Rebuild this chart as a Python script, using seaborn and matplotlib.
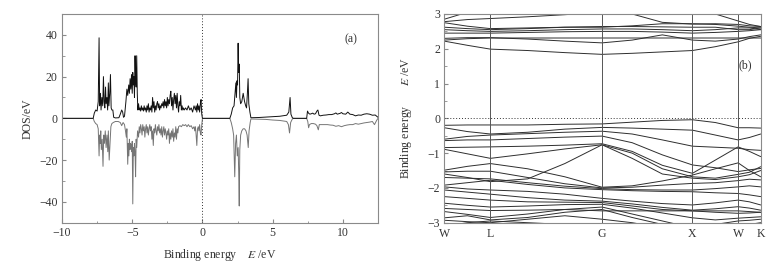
import matplotlib
matplotlib.use("Agg")
import matplotlib.pyplot as plt
import seaborn as sns
import pandas as pd
import numpy as np

# ---------------- DOS data (panel a) ----------------
e_up = [-10.0, -7.78, -7.70, -7.60, -7.50, -7.42, -7.36, -7.32, -7.26, -7.22, -7.16, -7.10, -7.05, -7.00,
        -6.95, -6.90, -6.86, -6.80, -6.75, -6.70, -6.66, -6.60, -6.55, -6.50, -6.45, -6.38, -6.32, -6.20,
        -5.95, -5.85, -5.75, -5.68, -5.62, -5.55, -5.45, -5.38, -5.32, -5.25, -5.20, -5.15, -5.10, -5.05,
        -5.00, -4.96, -4.92, -4.88, -4.84, -4.80, -4.76, -4.72, -4.68, -4.64, -4.60, -4.55, -4.50, -4.45,
        -4.40, -4.35, -4.30, -4.25, -4.20, -4.15, -4.10, -4.05, -4.00, -3.95, -3.90, -3.85, -3.80, -3.75,
        -3.70, -3.65, -3.60, -3.55, -3.50, -3.45, -3.40, -3.35, -3.30, -3.25, -3.20, -3.15, -3.10, -3.05,
        -3.00, -2.95, -2.90, -2.85, -2.80, -2.75, -2.70, -2.65, -2.60, -2.55, -2.50, -2.45, -2.40, -2.35,
        -2.30, -2.25, -2.20, -2.15, -2.10, -2.05, -2.00, -1.95, -1.90, -1.85, -1.80, -1.75, -1.70, -1.65,
        -1.60, -1.55, -1.50, -1.45, -1.40, -1.35, -1.30, -1.20, -1.10, -1.00, -0.90, -0.80, -0.70, -0.60,
        -0.50, -0.45, -0.40, -0.35, -0.30, -0.25, -0.20, -0.15, -0.10, -0.05, 0.00, 1.95, 2.05, 2.15,
        2.25, 2.32, 2.38, 2.42, 2.46, 2.50, 2.54, 2.58, 2.62, 2.66, 2.72, 2.80, 2.90, 3.00, 3.08, 3.14,
        3.20, 3.25, 3.30, 3.38, 3.45, 4.0, 4.5, 5.0, 5.5, 6.0, 6.15, 6.24, 6.30, 6.40, 6.47, 7.42,
        7.48, 7.55, 7.65, 7.75, 7.85, 7.95, 8.05, 8.15, 8.22, 8.30, 8.40, 8.6, 8.8, 9.0, 9.2, 9.4,
        9.5, 9.6, 9.8, 9.9, 10.0, 10.2, 10.35, 10.5, 10.7, 10.9, 11.1, 11.3, 11.5, 11.7, 11.9, 12.1,
        12.3, 12.5]
dos_up = [0, 0, 2.5, 4, 3.5, 8, 38.6, 6, 12, 4, 10, 6, 20, 8,
          5, 15, 7, 10, 4, 17, 6, 12, 21, 5, 4, 4, 0.5, 0.2,
          0.3, 2, 4, 3, 0.5, 1, 8, 14, 11, 16, 12, 19, 14, 21,
          12, 22, 16, 20, 10, 30, 18, 15, 30, 12, 4, 7, 4, 5,
          3.5, 6, 4, 5, 3.5, 6, 4, 5, 3, 6, 4, 7, 3, 5,
          4, 6, 3, 10, 5, 8, 3, 6, 4, 7, 8, 5, 7, 4,
          6, 5, 7, 6, 8, 5, 9, 6, 8, 5, 10, 6, 9, 7,
          11, 13, 6, 10, 4, 9, 12, 7, 11, 5, 12, 6, 3, 8,
          6, 11, 4, 6, 4, 5, 4, 5, 4, 6, 4, 5, 3, 6,
          4, 6, 3, 7, 4, 6, 3, 7, 9, 2, 0, 0, 2, 5,
          6, 12, 17, 10, 18, 16, 36, 22, 26, 10, 7, 8, 12, 8, 6, 5,
          12, 19, 7, 3, 0.3, 0.4, 0.6, 0.8, 1.0, 1.5, 3, 10, 2, 0.3, 0, 0,
          3.5, 2.5, 2, 2.2, 2.5, 2, 2.2, 3.5, 4, 1.5, 1.2, 1.5, 1.6, 1.8, 1.8, 2.2,
          2.6, 2.0, 2.4, 2.8, 2.2, 2.0, 3.0, 2.0, 1.8, 1.2, 1.6, 1.5, 2.0, 2.2, 2.0, 1.5,
          1.6, 0.5]

e_dn = [-10.0, -7.78, -7.70, -7.60, -7.50, -7.42, -7.36, -7.32, -7.28, -7.24, -7.20, -7.14, -7.08, -7.03,
        -6.98, -6.92, -6.86, -6.80, -6.74, -6.70, -6.64, -6.58, -6.52, -6.45, -6.35, -6.20, -6.00, -5.85,
        -5.75, -5.65, -5.55, -5.48, -5.42, -5.38, -5.32, -5.28, -5.24, -5.20, -5.16, -5.12, -5.08, -5.04,
        -5.00, -4.96, -4.92, -4.88, -4.84, -4.80, -4.76, -4.72, -4.68, -4.62, -4.55, -4.50, -4.45, -4.40,
        -4.35, -4.30, -4.25, -4.20, -4.15, -4.10, -4.05, -4.00, -3.95, -3.90, -3.85, -3.80, -3.75, -3.70,
        -3.65, -3.60, -3.55, -3.50, -3.45, -3.40, -3.35, -3.30, -3.25, -3.20, -3.15, -3.10, -3.05, -3.00,
        -2.95, -2.90, -2.85, -2.80, -2.75, -2.70, -2.65, -2.60, -2.55, -2.50, -2.45, -2.40, -2.35, -2.30,
        -2.25, -2.20, -2.15, -2.10, -2.05, -2.00, -1.95, -1.90, -1.85, -1.80, -1.75, -1.70, -1.60, -1.50,
        -1.40, -1.30, -1.20, -1.10, -1.00, -0.90, -0.80, -0.70, -0.60, -0.55, -0.50, -0.45, -0.40, -0.35,
        -0.30, -0.25, -0.20, -0.15, -0.10, -0.05, 0.00, 1.95, 2.05, 2.15, 2.22, 2.30, 2.36, 2.42,
        2.48, 2.54, 2.58, 2.62, 2.66, 2.72, 2.80, 2.90, 3.00, 3.10, 3.18, 3.26, 3.32, 3.40, 3.45, 4.0,
        4.5, 5.0, 5.5, 6.0, 6.12, 6.20, 6.28, 6.40, 6.47, 7.42, 7.50, 7.56, 7.62, 7.75, 7.90, 8.05,
        8.15, 8.25, 8.32, 8.5, 8.7, 8.9, 9.1, 9.3, 9.5, 9.7, 9.9, 10.1, 10.3, 10.5, 10.7, 10.9,
        11.1, 11.3, 11.5, 11.7, 11.9, 12.1, 12.25, 12.4, 12.5]
dos_dn = [0, 0, -1.5, -2.5, -3, -5, -18, -8, -12, -6, -15, -10, -23, -8,
          -12, -6, -14, -8, -16, -6, -20, -12, -4, -2.5, -2, -1.5, -1.5, -2,
          -3.5, -2, -3, -6, -9, -5, -22, -12, -18, -10, -15, -12, -13, -16,
          -11, -41, -14, -18, -12, -16, -28, -10, -14, -6, -9, -4, -7, -3,
          -5, -8, -3, -6, -4, -9, -5, -3, -7, -4, -8, -5, -3, -6,
          -4, -10, -6, -13, -5, -7, -3, -6, -8, -4, -6, -3, -7, -5,
          -8, -4, -9, -6, -4, -8, -5, -7, -10, -6, -8, -5, -12, -7,
          -10, -6, -9, -5, -11, -7, -9, -4, -10, -5, -7, -4, -3.5, -4,
          -3, -3.5, -3, -4, -3, -4, -3.5, -5, -4, -6, -4, -8, -13, -5,
          -4, -6, -3, -7, -8, -3, 0, 0, -2, -5, -8, -28, -12, -8,
          -18, -14, -25, -42, -15, -8, -6, -5, -5, -6, -8, -14, -6, -2, -0.3, -0.4,
          -0.5, -0.8, -1.0, -1.5, -3, -7, -2, -0.3, 0, 0, -1.5, -4.5, -3, -2.5, -2.5, -2.8,
          -3.5, -5.5, -3, -3, -3, -3, -3.2, -3.3, -3.8, -3.5, -4, -3.5, -3.2, -3, -3, -2.5,
          -2.8, -2.5, -2.2, -2, -1.8, -1.5, -3, -1, 0]

# ---------------- Band structure data (panel b) ----------------
k_labels = ["W", "L", "G", "X", "W", "K"]
k_label_pos = [0.0, 0.51, 1.745, 2.745, 3.25, 3.5]
# path nodes: W, mid, L, 1/3, 2/3, G, 1/3, 2/3, X, mid, W, mid, K
k_nodes = [0.0, 0.255, 0.51, 0.922, 1.333, 1.745, 2.078, 2.412, 2.745, 2.998, 3.25, 3.375, 3.5]

valence_bands = [
    [-0.20, -0.19, -0.19, -0.19, -0.17, -0.16, -0.11, -0.06, -0.04, -0.12, -0.27, -0.27, -0.28],
    [-0.27, -0.38, -0.45, -0.40, -0.31, -0.26, -0.28, -0.31, -0.34, -0.48, -0.62, -0.55, -0.45],
    [-0.60, -0.52, -0.48, -0.44, -0.40, -0.37, -0.45, -0.62, -0.80, -0.83, -0.86, -0.90, -0.92],
    [-0.64, -0.62, -0.62, -0.58, -0.54, -0.51, -0.70, -1.05, -1.34, -1.42, -1.53, -1.48, -1.44],
    [-0.84, -0.83, -0.82, -0.80, -0.77, -0.73, -0.95, -1.35, -1.58, -1.20, -0.82, -0.95, -1.10],
    [-0.89, -1.02, -1.15, -1.02, -0.88, -0.76, -1.00, -1.45, -1.68, -1.72, -1.61, -1.55, -1.39],
    [-1.60, -1.70, -1.82, -1.74, -1.30, -0.76, -1.15, -1.60, -1.72, -1.76, -1.68, -1.62, -1.50],
    [-1.49, -1.38, -1.30, -1.45, -1.68, -1.98, -1.94, -1.80, -1.63, -1.45, -1.28, -1.50, -1.68],
    [-1.54, -1.52, -1.52, -1.70, -1.88, -2.00, -1.98, -1.92, -1.87, -1.85, -1.79, -1.75, -1.77],
    [-1.70, -1.72, -1.74, -1.85, -1.95, -2.02, -2.05, -2.06, -2.06, -2.02, -1.97, -1.94, -1.97],
    [-1.92, -1.85, -1.78, -1.90, -2.00, -2.05, -2.08, -2.10, -2.11, -2.14, -2.16, -2.20, -2.25],
    [-1.97, -2.03, -2.06, -2.10, -2.18, -2.30, -2.38, -2.45, -2.49, -2.43, -2.35, -2.40, -2.49],
    [-2.06, -2.12, -2.18, -2.28, -2.35, -2.38, -2.46, -2.56, -2.64, -2.60, -2.54, -2.58, -2.64],
    [-2.25, -2.30, -2.35, -2.40, -2.41, -2.42, -2.52, -2.62, -2.66, -2.70, -2.73, -2.72, -2.70],
    [-2.44, -2.50, -2.55, -2.52, -2.48, -2.47, -2.58, -2.72, -2.86, -2.92, -2.87, -2.85, -2.83],
    [-2.59, -2.62, -2.65, -2.64, -2.62, -2.66, -2.66, -2.66, -2.66, -2.66, -2.66, -2.68, -2.70],
    [-2.68, -2.76, -2.85, -2.75, -2.62, -2.55, -2.75, -2.95, -3.15, -3.05, -2.95, -2.93, -2.90],
    [-2.86, -2.80, -2.92, -2.85, -2.70, -2.62, -2.85, -3.05, -3.25, -3.20, -3.10, -3.05, -3.00],
    [-2.93, -2.97, -3.00, -2.90, -2.80, -2.90, -3.00, -3.15, -3.30, -3.30, -3.20, -3.20, -3.20],
    [-3.10, -3.00, -2.95, -3.00, -3.05, -3.10, -3.20, -3.30, -3.40, -3.40, -3.30, -3.30, -3.30],
]
conduction_bands = [
    [2.22, 2.10, 1.99, 1.95, 1.89, 1.84, 1.87, 1.91, 1.95, 2.06, 2.20, 2.30, 2.36],
    [2.30, 2.32, 2.32, 2.28, 2.22, 2.17, 2.25, 2.40, 2.25, 2.22, 2.28, 2.35, 2.40],
    [2.25, 2.29, 2.31, 2.31, 2.31, 2.31, 2.31, 2.31, 2.31, 2.31, 2.31, 2.31, 2.31],
    [2.45, 2.45, 2.45, 2.47, 2.49, 2.50, 2.50, 2.48, 2.45, 2.47, 2.50, 2.52, 2.55],
    [2.55, 2.52, 2.50, 2.52, 2.55, 2.57, 2.57, 2.55, 2.52, 2.55, 2.60, 2.60, 2.55],
    [2.62, 2.58, 2.55, 2.58, 2.62, 2.64, 2.64, 2.63, 2.62, 2.62, 2.55, 2.55, 2.60],
    [2.75, 2.65, 2.58, 2.60, 2.62, 2.62, 2.66, 2.72, 2.72, 2.70, 2.65, 2.62, 2.60],
    [2.78, 2.84, 2.87, 2.92, 2.98, 3.05, 3.00, 2.76, 2.71, 2.72, 2.70, 2.66, 2.64],
    [2.85, 3.05, 3.20, 3.30, 3.30, 3.30, 3.30, 3.30, 3.30, 3.30, 3.30, 3.30, 3.30],
    [3.10, 3.10, 3.10, 3.05, 3.02, 3.10, 3.20, 3.20, 3.10, 3.00, 2.80, 2.70, 2.64],
]

# ---------------- styling ----------------
sns.set_style("ticks")
plt.rcParams["font.family"] = ["Liberation Serif", "DejaVu Serif"]
plt.rcParams["mathtext.fontset"] = "stix"
plt.rcParams["axes.edgecolor"] = "#8a8a8a"
plt.rcParams["axes.linewidth"] = 0.8
plt.rcParams["xtick.color"] = "#8a8a8a"
plt.rcParams["ytick.color"] = "#8a8a8a"
plt.rcParams["xtick.labelcolor"] = "#333333"
plt.rcParams["ytick.labelcolor"] = "#333333"
plt.rcParams["xtick.direction"] = "in"
plt.rcParams["ytick.direction"] = "in"

fig = plt.figure(figsize=(7.81, 2.64), dpi=100)
ax1 = fig.add_axes([62 / 781, 1 - 222.7 / 264, 316 / 781, 208.7 / 264])
ax2 = fig.add_axes([444.3 / 781, 1 - 222.7 / 264, 316.4 / 781, 208.7 / 264])

# ---- panel (a) ----
df_dn = pd.DataFrame({"E": e_dn, "DOS": dos_dn})
df_up = pd.DataFrame({"E": e_up, "DOS": dos_up})
sns.lineplot(data=df_dn, x="E", y="DOS", ax=ax1, color="#757575", lw=0.7, sort=False, estimator=None)
sns.lineplot(data=df_up, x="E", y="DOS", ax=ax1, color="#111111", lw=0.7, sort=False, estimator=None)
ax1.axvline(0, color="#333333", ls=(0, (1, 2)), lw=0.7)
ax1.set_xlim(-10, 12.5)
ax1.set_ylim(-50, 50)
ax1.set_xticks([-10, -5, 0, 5, 10])
ax1.set_xticks([-7.5, -2.5, 2.5, 7.5, 12.5], minor=True)
ax1.set_yticks([-40, -20, 0, 20, 40])
ax1.set_yticks([-30, -10, 10, 30], minor=True)
ax1.tick_params(axis="both", which="major", length=3, labelsize=8.5, pad=3)
ax1.tick_params(axis="both", which="minor", length=1.8)
ax1.set_xlabel("Binding energy    $E$ /eV", fontsize=8.5, color="#333333", labelpad=6)
ax1.set_ylabel("DOS/eV", fontsize=8.5, color="#333333", labelpad=4)
ax1.text(0.915, 0.88, "(a)", transform=ax1.transAxes, fontsize=8.5, color="#333333", ha="center", va="center")

# ---- panel (b) ----
rows = []
for i, band in enumerate(valence_bands + conduction_bands):
    for k, e in zip(k_nodes, band):
        rows.append({"k": k, "E": e, "band": i})
df_b = pd.DataFrame(rows)
sns.lineplot(data=df_b, x="k", y="E", units="band", estimator=None, sort=False,
             ax=ax2, color="#2e2e2e", lw=0.7)
for kp in k_label_pos[1:-1]:
    ax2.axvline(kp, color="#555555", lw=0.7)
ax2.axhline(0, color="#333333", ls=(0, (1, 2)), lw=0.7)
ax2.set_xlim(k_label_pos[0], k_label_pos[-1])
ax2.set_ylim(-3, 3)
ax2.set_xticks(k_label_pos)
ax2.set_xticklabels(k_labels)
ax2.set_yticks([-3, -2, -1, 0, 1, 2, 3])
ax2.set_yticks([-2.5, -1.5, -0.5, 0.5, 1.5, 2.5], minor=True)
ax2.tick_params(axis="x", which="major", length=0, labelsize=8.5, pad=4)
ax2.tick_params(axis="y", which="major", length=3, labelsize=8.5, pad=3)
ax2.tick_params(axis="y", which="minor", length=1.8)
ax2.set_xlabel("")
ax2.set_ylabel("Binding energy       $E$ /eV", fontsize=8.5, color="#333333", labelpad=10)
ax2.text(0.95, 0.755, "(b)", transform=ax2.transAxes, fontsize=8.5, color="#333333", ha="center", va="center")

fig.savefig("out.png", dpi=100)
